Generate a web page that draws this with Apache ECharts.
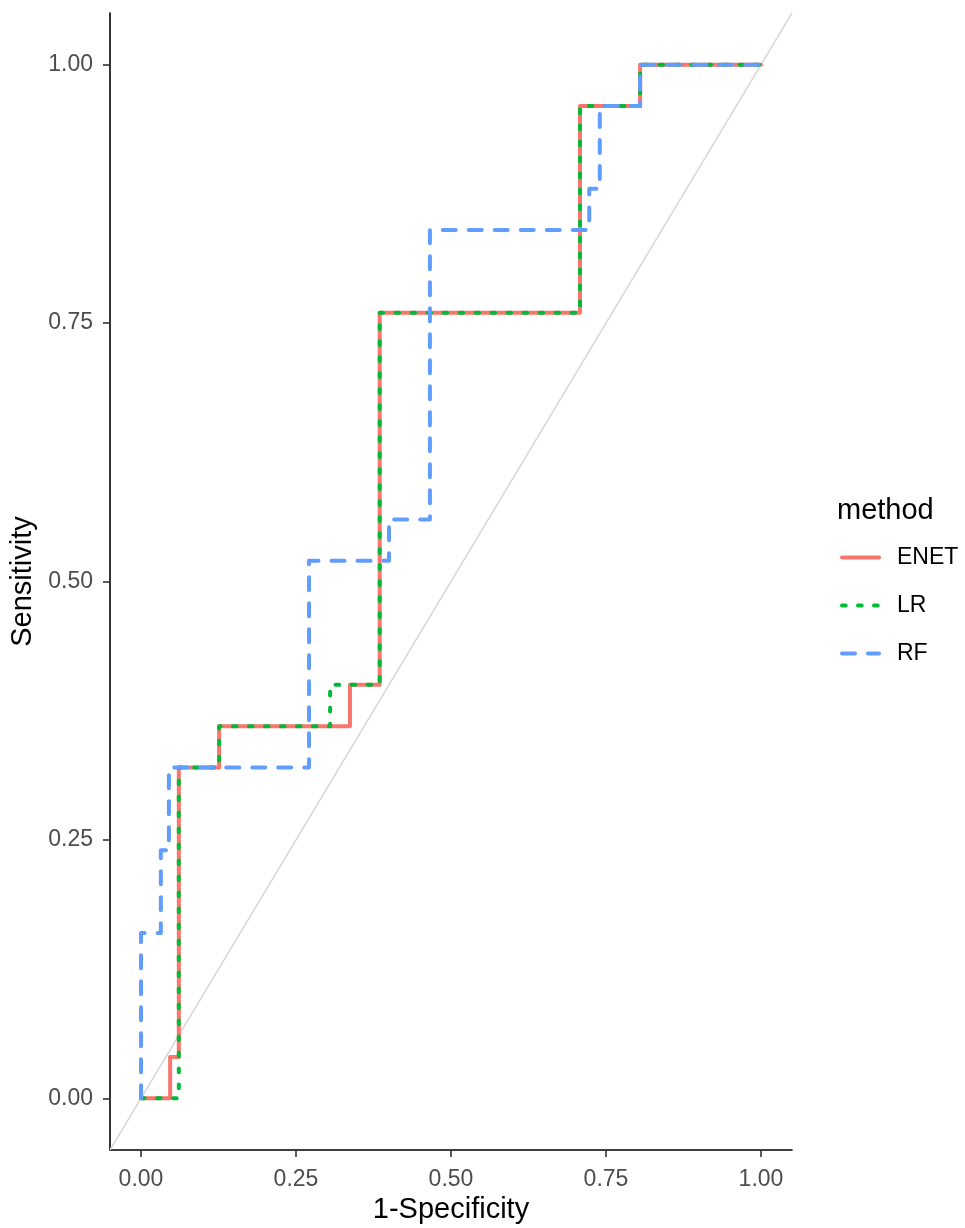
<!DOCTYPE html>
<html>
<head>
<meta charset="utf-8">
<script src="https://cdn.jsdelivr.net/npm/echarts@6/dist/echarts.min.js"></script>
<style>
html,body{margin:0;padding:0;background:#fff;}
#chart{width:965px;height:1228px;}
</style>
</head>
<body>
<div id="chart"></div>
<script>
// ROC curve points (1-Specificity, Sensitivity), drawn as steps
const enetFpr = [0, 0.047, 0.061, 0.126, 0.337, 0.385, 0.708, 0.805, 1];
const enetTpr = [0, 0.04, 0.32, 0.36, 0.40, 0.76, 0.96, 1.00, 1];
const lrFpr = [0, 0.061, 0.126, 0.305, 0.385, 0.708, 0.805, 1];
const lrTpr = [0, 0.32, 0.36, 0.40, 0.76, 0.96, 1.00, 1];
const rfFpr = [0, 0, 0.032, 0.045, 0.271, 0.400, 0.466, 0.723, 0.740, 0.805, 1];
const rfTpr = [0, 0.16, 0.24, 0.32, 0.52, 0.56, 0.84, 0.88, 0.96, 1.00, 1];
const diagX = [-0.05, 1.05];
const diagY = [-0.05, 1.05];
const methods = ['ENET', 'LR', 'RF'];
const tickValues = [0, 0.25, 0.5, 0.75, 1];

const zip = (a, b) => a.map((v, i) => [v, b[i]]);
const colors = ['#F8766D', '#00BA38', '#619CFF'];
const dashTypes = ['solid', [3.7, 12.3], [13, 13]];
const lw = 4;
const font = '"Liberation Sans", Arial, sans-serif';

const chart = echarts.init(document.getElementById('chart'), null, {renderer: 'canvas'});

const axisCommon = {
  type: 'value',
  min: -0.05,
  max: 1.05,
  nameLocation: 'middle',
  nameTextStyle: {fontSize: 29, color: '#000', fontFamily: font},
  axisLine: {show: true, onZero: false, lineStyle: {color: '#000', width: 1.6}},
  axisTick: {show: true, inside: false, length: 7, lineStyle: {color: '#333', width: 1.6}, customValues: tickValues},
  axisLabel: {fontSize: 23, color: '#4D4D4D', fontFamily: font, customValues: tickValues,
    formatter: v => v.toFixed(2)},
  splitLine: {show: false}
};

const seriesList = [{
  type: 'line', name: 'diag', data: zip(diagX, diagY), showSymbol: false, symbol: 'none',
  lineStyle: {color: '#D9D9D9', width: 1.5}, silent: true, z: 1
}];
const fprs = [enetFpr, lrFpr, rfFpr];
const tprs = [enetTpr, lrTpr, rfTpr];
methods.forEach((m, i) => {
  seriesList.push({
    type: 'line', name: m, data: zip(fprs[i], tprs[i]), step: 'end',
    symbol: 'none', showSymbol: false, color: colors[i],
    lineStyle: {color: colors[i], width: lw, type: dashTypes[i], cap: 'round', join: 'round'}, z: 2 + i
  });
});

chart.setOption({
  animation: false,
  backgroundColor: '#fff',
  grid: {left: 110, right: 173, top: 13, bottom: 78, containLabel: false, outerBoundsMode: 'none'},
  xAxis: Object.assign({}, axisCommon, {
    name: '1-Specificity', nameGap: 43,
    axisLabel: Object.assign({}, axisCommon.axisLabel, {margin: 18})
  }),
  yAxis: Object.assign({}, axisCommon, {
    name: 'Sensitivity', nameGap: 67,
    axisLabel: Object.assign({}, axisCommon.axisLabel, {margin: 17})
  }),
  legend: {
    data: methods.map((m, i) => ({
      name: m,
      lineStyle: {color: colors[i], width: lw, type: dashTypes[i], cap: 'round'}
    })),
    orient: 'vertical',
    left: 840,
    top: 546,
    padding: 0,
    itemWidth: 37,
    itemHeight: 14,
    itemGap: 25,
    textStyle: {fontSize: 23, color: '#000', fontFamily: font, padding: [0, 0, 0, 13], lineHeight: 23},
    itemStyle: {opacity: 0}
  },
  graphic: [{
    type: 'text', left: 837, top: 496,
    style: {text: 'method', fontSize: 29, fill: '#000', fontFamily: font}
  }],
  series: seriesList
});
</script>
</body>
</html>
